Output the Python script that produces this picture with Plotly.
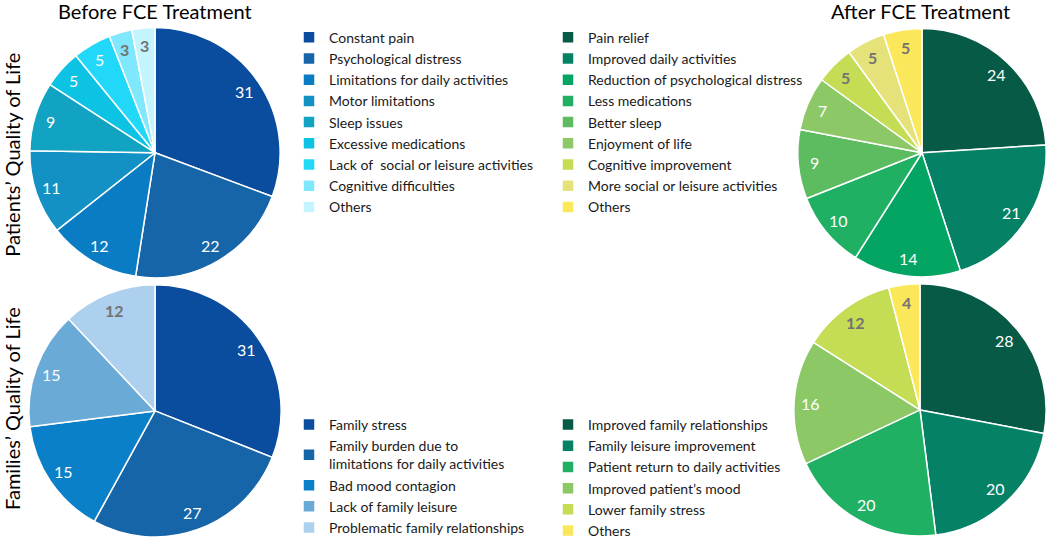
import math
import plotly.graph_objects as go

W, H = 1052, 547

# ---------------- data ----------------
pb_labels = ["Constant pain", "Psychological distress", "Limitations for daily activities",
             "Motor limitations", "Sleep issues", "Excessive medications",
             "Lack of  social or leisure activities", "Cognitive difficulties", "Others"]
pb_values = [31, 22, 12, 11, 9, 5, 5, 3, 3]

pa_labels = ["Pain relief", "Improved daily activities", "Reduction of psychological distress",
             "Less medications", "Better sleep", "Enjoyment of life", "Cognitive improvement",
             "More social or leisure activities", "Others "]
pa_values = [24, 21, 14, 10, 9, 7, 5, 5, 5]

fb_labels = ["Family stress", "Family burden due to<br>limitations for daily activities",
             "Bad mood contagion", "Lack of family leisure", "Problematic family relationships"]
fb_values = [31, 27, 15, 15, 12]

fa_labels = ["Improved family relationships", "Family leisure improvement",
             "Patient return to daily activities", "Improved patient’s mood",
             "Lower family stress", "Others  "]
fa_values = [28, 20, 20, 16, 12, 4]

col_titles = ["Before FCE Treatment", "After FCE Treatment"]
row_titles = ["Patients’ Quality of Life", "Families’ Quality of Life"]

# ---------------- styles ----------------
pb_colors = ["#0a4c9e", "#1565a8", "#0a7cc4", "#1491c4", "#12a3c2", "#0cc3e4", "#22d8f8", "#80e8fc", "#c4f4fe"]
pa_colors = ["#065a46", "#058266", "#04a463", "#20b063", "#5dbb60", "#8cc866", "#c5dc55", "#e6e27a", "#fbe85a"]
fb_colors = ["#0a4c9e", "#1565a8", "#0a80c8", "#6aaad6", "#acd0ee"]
fa_colors = ["#065a46", "#058266", "#20b063", "#8cc866", "#c5dc55", "#fbe85a"]

WHITE, GRAY = "white", "#737373"
pb_txt = [WHITE] * 7 + [GRAY] * 2
pa_txt = [WHITE] * 6 + [GRAY] * 3
fb_txt = [WHITE] * 4 + [GRAY]
fa_txt = [WHITE] * 4 + [GRAY] * 2

FONT = "Lato"

# pie geometry in pixels: center x, center y, radius
geo = {
    "pb": (155, 155, 127),
    "pa": (922, 155, 126),
    "fb": (155, 417, 128),
    "fa": (920, 416, 128),
}

pies = [
    ("pb", pb_labels, pb_values, pb_colors, pb_txt, "legend"),
    ("pa", pa_labels, pa_values, pa_colors, pa_txt, "legend2"),
    ("fb", fb_labels, fb_values, fb_colors, fb_txt, "legend3"),
    ("fa", fa_labels, fa_values, fa_colors, fa_txt, "legend4"),
]

fig = go.Figure()
annotations = []

for key, labels, values, colors, tcols, leg in pies:
    cx, cy, r = geo[key]
    fig.add_trace(go.Pie(
        labels=labels, values=values, sort=False, direction="clockwise", rotation=0,
        marker=dict(colors=colors, line=dict(color="white", width=1.5)),
        textinfo="none", hoverinfo="label+value",
        domain=dict(x=[(cx - r) / W, (cx + r) / W], y=[1 - (cy + r) / H, 1 - (cy - r) / H]),
        legend=leg, showlegend=True,
    ))
    total = sum(values)
    cum = 0
    for v, tc in zip(values, tcols):
        mid = (cum + v / 2) / total * 2 * math.pi
        cum += v
        px = cx + 0.86 * r * math.sin(mid)
        py = cy - 0.86 * r * math.cos(mid)
        bold = tc == GRAY
        annotations.append(dict(
            x=px / W, y=1 - py / H, xref="paper", yref="paper", showarrow=False,
            text=f"<b>{v}</b>" if bold else str(v),
            font=dict(family=FONT, size=16, color=tc),
            xanchor="center", yanchor="middle",
        ))

# column titles
for t, xc in zip(col_titles, [155, 920]):
    annotations.append(dict(x=xc / W, y=1 - 11 / H, xref="paper", yref="paper", showarrow=False,
                            text=t, font=dict(family=FONT, size=20, color="black"),
                            xanchor="center", yanchor="middle"))
# row titles
for t, yc in zip(row_titles, [157, 415]):
    annotations.append(dict(x=12 / W, y=1 - yc / H, xref="paper", yref="paper", showarrow=False,
                            text=t, textangle=-90, font=dict(family=FONT, size=20, color="black"),
                            xanchor="center", yanchor="middle"))

leg_common = dict(xanchor="left", yanchor="top", bgcolor="rgba(0,0,0,0)",
                  font=dict(family=FONT, size=14, color="#1a1a1a"),
                  itemclick=False, itemdoubleclick=False, tracegroupgap=0)

fig.update_layout(
    width=W, height=H,
    margin=dict(l=0, r=0, t=0, b=0),
    paper_bgcolor="white", plot_bgcolor="white",
    annotations=annotations,
    legend=dict(x=289 / W, y=1 - 22 / H, **leg_common),
    legend2=dict(x=548 / W, y=1 - 22 / H, **leg_common),
    legend3=dict(x=289 / W, y=1 - 415 / H, **leg_common),
    legend4=dict(x=548 / W, y=1 - 415 / H, **leg_common),
)

fig.write_html("out.html", config={"displayModeBar": False},
               post_script="document.body.style.margin='0';document.body.style.padding='0';")
